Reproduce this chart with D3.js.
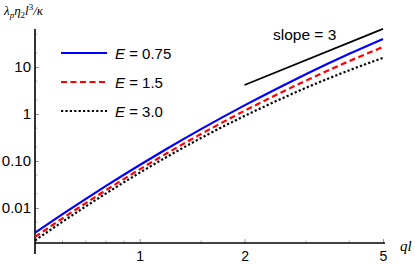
<!DOCTYPE html>
<html>
<head>
<meta charset="utf-8">
<script src="https://cdn.jsdelivr.net/npm/d3@7"></script>
<style>
  body { margin: 0; background: #fff; }
  svg { display: block; }
</style>
</head>
<body>
<div id="vis"></div>
<script>
// values
const ql = [0.5, 0.6, 0.7, 0.8, 1, 1.2, 1.5, 2, 2.5, 3, 4, 5];
const e075 = [0.00298, 0.00742, 0.01568, 0.0295, 0.0822, 0.1842, 0.4764, 1.525, 3.59, 7.01, 19.06, 39.5];
const e15 = [0.00242, 0.00603, 0.01274, 0.0240, 0.0665, 0.1477, 0.3758, 1.170, 2.681, 5.104, 13.34, 26.69];
const e30 = [0.00204, 0.00511, 0.01084, 0.02042, 0.0565, 0.1240, 0.3076, 0.9087, 1.973, 3.596, 8.515, 15.72];
const slopeX = [2, 5];
const slopeY = [4.15, 64.8];
const seriesNames = ["0.75", "1.5", "3.0"];
const xTicks = [1, 2, 5];
const xMinor = [0.6, 0.7, 0.8, 0.9, 1.5, 3, 4];
const yTicks = [0.01, 0.1, 1, 10];
const yTickLabels = ["0.01", "0.10", "1", "10"];
const yMinor = [0.002, 0.005, 0.02, 0.05, 0.2, 0.5, 2, 5, 20, 50];

const W = 415, H = 264;
const svg = d3.select('#vis').append('svg')
  .attr('width', W).attr('height', H)
  .attr('viewBox', [0, 0, W, H].join(' '));

const x = d3.scaleLog().domain([0.5, 5]).range([35, 383]);
const y = d3.scaleLog().domain([0.01, 10]).range([208, 67]);
const axisY = 243; // where the horizontal axis sits
const axisX = 35;

const font = "'Liberation Sans', Arial, sans-serif";
const serif = "'Liberation Serif', 'Times New Roman', serif";

// x axis
const gx = svg.append("g").attr("transform", `translate(0,${axisY})`);
gx.call(d3.axisBottom(x).tickValues(xTicks).tickFormat(d3.format("d"))
  .tickSizeInner(-4).tickSizeOuter(0).tickPadding(8));
gx.select(".domain").remove();
gx.selectAll(".tick line").attr("stroke", "#999");
gx.selectAll("text").attr("font-family", font).attr("font-size", 14).attr("fill", "#000");
gx.append("g").selectAll("line").data(xMinor).join("line")
  .attr("x1", d => x(d)).attr("x2", d => x(d)).attr("y1", 0).attr("y2", -2.5)
  .attr("stroke", "#aaa");
svg.append("line").attr("x1", axisX).attr("x2", 385).attr("y1", axisY).attr("y2", axisY)
  .attr("stroke", "#000").attr("stroke-width", 1.6);

// y axis
const gy = svg.append("g").attr("transform", `translate(${axisX},0)`);
gy.call(d3.axisLeft(y).tickValues(yTicks).tickFormat((d, i) => yTickLabels[i])
  .tickSizeInner(-4).tickSizeOuter(0).tickPadding(4));
gy.select(".domain").remove();
gy.selectAll(".tick line").attr("stroke", "#999");
gy.selectAll("text").attr("font-family", font).attr("font-size", 15).attr("fill", "#000");
gy.append("g").selectAll("line").data(yMinor).join("line")
  .attr("y1", d => y(d)).attr("y2", d => y(d)).attr("x1", 0).attr("x2", 2.5)
  .attr("stroke", "#bbb");
svg.append("line").attr("x1", axisX).attr("x2", axisX).attr("y1", 29).attr("y2", 254)
  .attr("stroke", "#000").attr("stroke-width", 1.6);

// curves
const line = d3.line().x(d => x(d[0])).y(d => y(d[1])).curve(d3.curveMonotoneX);
const styles = [
  { color: "#0000ff", dash: null },
  { color: "#ff0000", dash: "6,3.5" },
  { color: "#000000", dash: "2.2,2.2" }
];
[e075, e15, e30].forEach((vals, i) => {
  svg.append("path")
    .datum(ql.map((q, j) => [q, vals[j]]))
    .attr("d", line)
    .attr("fill", "none")
    .attr("stroke", styles[i].color)
    .attr("stroke-width", 2.2)
    .attr("stroke-dasharray", styles[i].dash);
});

// slope = 3 guide
svg.append("path")
  .datum(slopeX.map((q, j) => [q, slopeY[j]]))
  .attr("d", d3.line().x(d => x(d[0])).y(d => y(d[1])))
  .attr("stroke", "#000").attr("stroke-width", 1.7).attr("fill", "none");
svg.append("text").attr("x", 273).attr("y", 40)
  .attr("font-family", font).attr("font-size", 15.5).text("slope = 3");

// legend
const lg = svg.append("g").selectAll("g").data(seriesNames).join("g")
  .attr("transform", (d, i) => `translate(61,${53 + i * 29})`);
lg.append("line").attr("x1", 0).attr("x2", 46)
  .attr("stroke", (d, i) => styles[i].color)
  .attr("stroke-width", 2.2)
  .attr("stroke-dasharray", (d, i) => styles[i].dash);
const lt = lg.append("text").attr("x", 54).attr("y", 5.5)
  .attr("font-family", font).attr("font-size", 15);
lt.append("tspan").attr("font-style", "italic").text("E");
lt.append("tspan").text(d => " = " + d);

// axis titles
const yt = svg.append("text").attr("x", 4).attr("y", 15)
  .attr("font-family", serif).attr("font-size", 13).attr("font-style", "italic");
yt.append("tspan").text("λ");
yt.append("tspan").attr("font-size", 9).attr("dy", 3).text("p");
yt.append("tspan").attr("dy", -3).text("η");
yt.append("tspan").attr("font-size", 9).attr("font-style", "normal").attr("dy", 3).text("2");
yt.append("tspan").attr("dy", -3).text("l");
yt.append("tspan").attr("font-size", 9).attr("font-style", "normal").attr("dy", -5).text("3");
yt.append("tspan").attr("dy", 5).text("/κ");

svg.append("text").attr("x", 400).attr("y", 251)
  .attr("font-family", serif).attr("font-size", 15).attr("font-style", "italic").text("ql");
</script>
</body>
</html>
